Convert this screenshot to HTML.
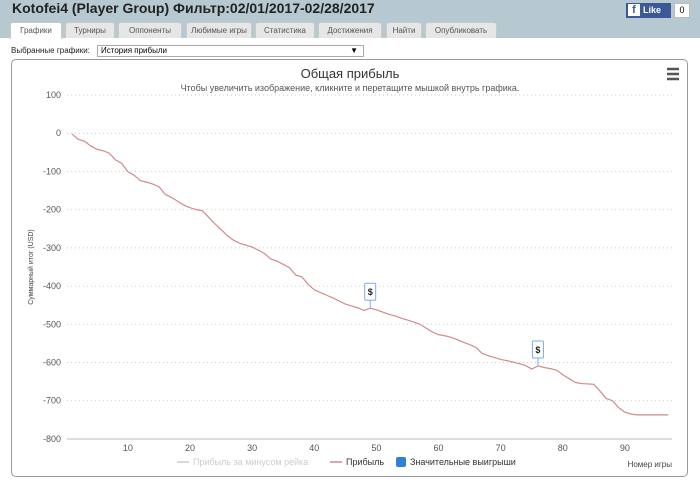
<!DOCTYPE html>
<html><head><meta charset="utf-8">
<style>
body{margin:0;width:700px;height:489px;overflow:hidden;background:#fff;font-family:"Liberation Sans","DejaVu Sans",sans-serif;position:relative}
.hdr{position:absolute;left:0;top:0;width:700px;height:38px;background:#b6c9d1}
.ttl{position:absolute;left:12px;top:0px;font-size:14px;font-weight:bold;color:#222}
.tab{position:absolute;top:22px;height:16px;background:#e6e6e6;border:1px solid #c8c8c8;border-bottom:none;border-radius:3px 3px 0 0;font-size:8px;color:#555;text-align:center;line-height:16px;box-sizing:border-box;white-space:nowrap;overflow:hidden}
.tab.act{background:#fff;height:17px}
.fb{position:absolute;left:626px;top:3px;width:45px;height:15px;background:#3b5998;color:#fff;font-size:9px;font-weight:bold;line-height:15px}
.cnt{position:absolute;left:674px;top:3px;width:16px;height:15px;border:1px solid #bbb;box-sizing:border-box;background:#fff;font-size:9px;text-align:center;line-height:13px}
.sel{position:absolute;left:97px;top:45px;width:267px;height:12px;border:1px solid #aaa;box-sizing:border-box;font-size:8px;line-height:10px;padding-left:3px}
.panel{position:absolute;left:11px;top:59px;width:677px;height:418px;border:1px solid #999;border-radius:5px;box-sizing:border-box}
</style></head><body>
<div class="hdr"></div>
<div class="ttl">Kotofei4 (Player Group) Фильтр:02/01/2017-02/28/2017</div>
<div class="fb"><span style="display:inline-block;width:12px;height:12px;background:#fff;color:#3b5998;text-align:center;line-height:13px;margin:1px 3px 0 2px;font-size:11px">f</span>Like</div>
<div class="cnt">0</div>
<div class="tab act" style="left:10px;width:52px">Графики</div>
<div class="tab" style="left:65px;width:50px">Турниры</div>
<div class="tab" style="left:118px;width:64px">Оппоненты</div>
<div class="tab" style="left:186px;width:66px">Любимые игры</div>
<div class="tab" style="left:255px;width:60px">Статистика</div>
<div class="tab" style="left:318px;width:64px">Достижения</div>
<div class="tab" style="left:386px;width:36px">Найти</div>
<div class="tab" style="left:425px;width:72px">Опубликовать</div>
<div style="position:absolute;left:11px;top:46px;font-size:8px;color:#222">Выбранные графики:</div>
<div class="sel">История прибыли<span style="position:absolute;right:5px;top:0">▼</span></div>
<div class="panel"></div>
<svg id="ch" width="700" height="489" style="position:absolute;left:0;top:0"></svg>
<script>
const yTicks=[100,0,-100,-200,-300,-400,-500,-600,-700,-800];
const xTicks=[10,20,30,40,50,60,70,80,90];
const games=[];for(let i=1;i<=97;i++)games.push(i);
const profit=[-2,-16,-21,-33,-42,-46,-52,-70,-79,-101,-110,-124,-128,-133,-140,-160,-168,-178,-188,-195,-200,-203,-220,-237,-252,-268,-280,-288,-293,-298,-306,-315,-329,-335,-343,-352,-371,-376,-395,-410,-417,-424,-431,-439,-447,-452,-457,-464,-458,-462,-468,-474,-478,-484,-489,-494,-500,-510,-520,-527,-530,-534,-540,-547,-553,-560,-576,-582,-587,-592,-595,-599,-603,-608,-617,-609,-613,-616,-620,-632,-642,-652,-655,-656,-657,-675,-694,-700,-718,-730,-735,-737,-737,-737,-737,-737,-737];
const bigWins=[49,76];
const NS='http://www.w3.org/2000/svg';
const svg=document.getElementById('ch');
const X=v=>72+(v-1)*6.2125;
const Y=v=>133.2-v*0.3822;
function mk(t,a,txt){const e=document.createElementNS(NS,t);for(const k in a)e.setAttribute(k,a[k]);if(txt!==undefined)e.textContent=txt;svg.appendChild(e);return e;}
let e;
e=mk('text',{x:350,y:78,'text-anchor':'middle','font-size':13,fill:'#333'},'Общая прибыль');


e=mk('text',{x:350,y:91,'text-anchor':'middle','font-size':9,fill:'#555'},'Чтобы увеличить изображение, кликните и перетащите мышкой внутрь графика.');


e=mk('path',{d:'M667 69h12M667 74h12M667 79h12',stroke:'#555','stroke-width':2.5});


yTicks.forEach(t=>{
 if(t!==-800){e=mk('line',{x1:67,x2:672,y1:Y(t),y2:Y(t),stroke:'#ccc','stroke-dasharray':'1,3'});
 
 }
 e=mk('text',{x:61,y:Y(t)+3,'text-anchor':'end','font-size':9,fill:'#555'},t===0?'0':(t<0?'-'+(-t):String(t)));
 
 
});
e=mk('line',{x1:67,x2:672,y1:Y(-800),y2:Y(-800),stroke:'#ddd','stroke-width':2});


xTicks.forEach(t=>{
 e=mk('text',{x:X(t),y:451,'text-anchor':'middle','font-size':9,fill:'#555'},String(t));
 
 
});
e=mk('text',{x:0,y:0,'font-size':7,fill:'#444','text-anchor':'middle',transform:'translate(33,267) rotate(-90)'},'Суммарный итог (USD)');


e=mk('text',{x:672,y:467,'text-anchor':'end','font-size':8,fill:'#444'},'Номер игры');


e=mk('polyline',{points:games.map((g,i)=>X(g)+','+Y(profit[i])).join(' '),fill:'none',stroke:'#d48a8a','stroke-width':1.2});


bigWins.forEach(g=>{
 const px=X(g),py=Y(profit[g-1]);
 e=mk('line',{x1:px,x2:px,y1:py,y2:py-8,stroke:'#7aaaf0'});
 
 
 e=mk('rect',{x:px-5.5,y:py-25,width:11,height:17,fill:'#fff',stroke:'#7aaaf0',rx:1});
 
 
 e=mk('text',{x:px,y:py-13,'text-anchor':'middle','font-size':9,'font-weight':'bold',fill:'#222'},'$');
 
 
});
e=mk('line',{x1:177,x2:189,y1:462,y2:462,stroke:'#ccc','stroke-width':1.5});


e=mk('text',{x:193,y:465,'font-size':9,fill:'#ccc'},'Прибыль за минусом рейка');


e=mk('line',{x1:330,x2:342,y1:462,y2:462,stroke:'#d48a8a','stroke-width':1.5});


e=mk('text',{x:346,y:465,'font-size':9,fill:'#333'},'Прибыль');


e=mk('rect',{x:396,y:457,width:10,height:10,fill:'#2f7ed8',rx:2});


e=mk('text',{x:410,y:465,'font-size':9,fill:'#333'},'Значительные выигрыши');


</script>
</body></html>
